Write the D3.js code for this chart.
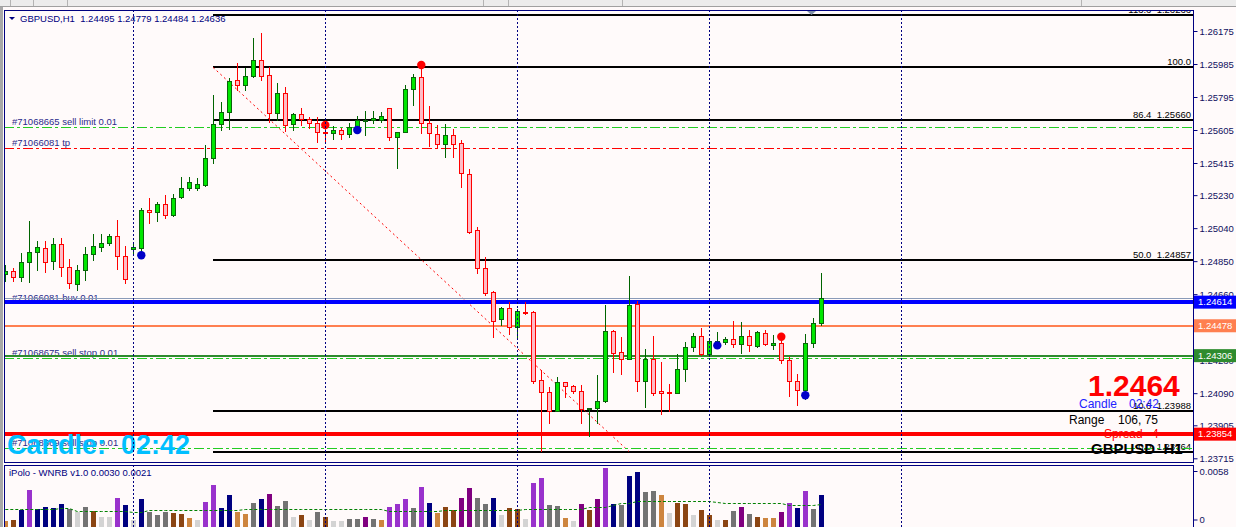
<!DOCTYPE html>
<html>
<head>
<meta charset="utf-8">
<script src="https://cdn.jsdelivr.net/npm/d3@7"></script>
<style>
html, body { margin: 0; padding: 0; background: #fffafa; overflow: hidden; }
svg { display: block; }
text { font-family: "Liberation Sans", Arial, sans-serif; white-space: pre; }
</style>
</head>
<body>
<div id="chart"></div>
<script>
// GBPUSD H1 candles, oldest first
const candleOpen = [1.24776,1.24795,1.24760,1.24843,1.24901,1.24924,1.24849,1.24949,1.24818,1.24717,
    1.24797,1.24889,1.24933,1.24953,1.24993,1.24878,1.24918,1.24927,1.25143,1.25131,
    1.25179,1.25114,1.25218,1.25271,1.25269,1.25288,1.25442,1.25638,1.25707,1.25893,
    1.25862,1.25916,1.26008,1.25920,1.25701,1.25816,1.25638,1.25695,1.25670,1.25644,
    1.25592,1.25586,1.25605,1.25580,1.25615,1.25660,1.25663,1.25663,1.25733,1.25563,
    1.25595,1.25839,1.25908,1.25647,1.25580,1.25523,1.25574,1.25528,1.25352,1.25029,
    1.24809,1.24671,1.24515,1.24578,1.24469,1.24559,1.24555,1.24164,1.24095,1.23989,
    1.24152,1.24129,1.24101,1.24000,1.24004,1.24046,1.24446,1.24325,1.24285,1.24603,
    1.24158,1.24285,1.24102,1.24097,1.24089,1.24227,1.24354,1.24417,1.24317,1.24367,
    1.24386,1.24400,1.24371,1.24419,1.24360,1.24434,1.24365,1.24377,1.24279,1.24158,
    1.24108,1.24377,1.24495];
const candleHigh = [1.24828,1.24810,1.24897,1.25081,1.24966,1.24966,1.24985,1.24985,1.24862,1.24828,
    1.24933,1.25006,1.25006,1.25005,1.25087,1.24937,1.24953,1.25154,1.25212,1.25189,
    1.25231,1.25237,1.25334,1.25334,1.25329,1.25519,1.25807,1.25768,1.25906,1.25989,
    1.25964,1.26136,1.26162,1.25969,1.25874,1.25854,1.25701,1.25730,1.25682,1.25678,
    1.25634,1.25628,1.25618,1.25644,1.25686,1.25714,1.25714,1.25710,1.25733,1.25595,
    1.25864,1.25927,1.25960,1.25743,1.25634,1.25640,1.25609,1.25547,1.25379,1.25045,
    1.24872,1.24678,1.24588,1.24613,1.24576,1.24613,1.24563,1.24223,1.24124,1.24181,
    1.24156,1.24137,1.24135,1.24003,1.24194,1.24599,1.24453,1.24411,1.24764,1.24619,
    1.24344,1.24419,1.24268,1.24143,1.24315,1.24383,1.24434,1.24465,1.24396,1.24440,
    1.24415,1.24504,1.24498,1.24452,1.24448,1.24453,1.24423,1.24438,1.24296,1.24200,
    1.24430,1.24521,1.24779];
const candleLow = [1.24736,1.24736,1.24736,1.24732,1.24799,1.24789,1.24805,1.24766,1.24697,1.24684,
    1.24741,1.24857,1.24908,1.24943,1.24806,1.24726,1.24891,1.24904,1.25071,1.25083,
    1.25097,1.25110,1.25212,1.25260,1.25260,1.25283,1.25413,1.25605,1.25611,1.25835,
    1.25835,1.25912,1.25893,1.25653,1.25663,1.25599,1.25605,1.25634,1.25615,1.25538,
    1.25528,1.25551,1.25551,1.25566,1.25595,1.25576,1.25644,1.25653,1.25547,1.25384,
    1.25595,1.25749,1.25589,1.25513,1.25500,1.25451,1.25448,1.25277,1.25010,1.24780,
    1.24655,1.24411,1.24482,1.24430,1.24415,1.24544,1.24150,1.23758,1.23920,1.23989,
    1.24066,1.24089,1.23920,1.23843,1.23920,1.24041,1.24213,1.24200,1.24285,1.24104,
    1.24012,1.24079,1.23968,1.23989,1.24089,1.24162,1.24334,1.24307,1.24306,1.24356,
    1.24371,1.24354,1.24319,1.24334,1.24357,1.24369,1.24346,1.24265,1.24073,1.24022,
    1.24054,1.24354,1.24484];
const candleClose = [1.24793,1.24760,1.24843,1.24901,1.24930,1.24847,1.24947,1.24818,1.24722,1.24799,
    1.24889,1.24935,1.24953,1.24993,1.24881,1.24745,1.24930,1.25143,1.25131,1.25177,
    1.25114,1.25212,1.25269,1.25306,1.25294,1.25442,1.25638,1.25707,1.25887,1.25862,
    1.25916,1.26008,1.25918,1.25701,1.25816,1.25632,1.25695,1.25667,1.25644,1.25595,
    1.25586,1.25605,1.25580,1.25624,1.25663,1.25665,1.25672,1.25686,1.25563,1.25595,
    1.25839,1.25908,1.25647,1.25586,1.25523,1.25574,1.25523,1.25356,1.25019,1.24809,
    1.24668,1.24507,1.24578,1.24469,1.24561,1.24553,1.24162,1.24095,1.23989,1.24152,
    1.24131,1.24101,1.24000,1.24003,1.24043,1.24446,1.24323,1.24285,1.24596,1.24162,
    1.24285,1.24092,1.24089,1.24089,1.24227,1.24354,1.24417,1.24314,1.24388,1.24390,
    1.24400,1.24373,1.24419,1.24365,1.24440,1.24371,1.24377,1.24279,1.24158,1.24108,
    1.24377,1.24492,1.24636];

// signal dots: candle index + price
const redDotIdx = [40, 52, 97];
const redDotPrice = [1.25634, 1.25979, 1.24415];
const blueDotIdx = [17, 44, 89, 100];
const blueDotPrice = [1.24884, 1.25605, 1.24365, 1.24078];

// day separators (candle index)
const separatorIdx = [16, 40, 64, 88, 112];

// price axis
const priceTicks = [1.26175, 1.25985, 1.25795, 1.25605, 1.25415, 1.25230, 1.25040,
    1.24850, 1.24660, 1.24470, 1.24280, 1.24090, 1.23905, 1.23715];

// fibonacci
const fibLabels = ['113.6  1.26266', '100.0', '86.4  1.25660', '50.0  1.24857', '10.6  1.23988', '0.0  1.23764'];
const fibPrices = [1.26266, 1.25966, 1.25660, 1.24857, 1.23988, 1.23754];
const fibStartIdx = 26;
const fibEndIdx = 78;

// pending / open orders
const orderLabels = ['#71068665 sell limit 0.01', '#71066081 tp', '#71066081 buy 0.01',
    '#71068675 sell stop 0.01', '#71068669 sell stop 0.01'];
const orderPrices = [1.25625, 1.25501, 1.24608, 1.24292, 1.23772];
const orderColors = ['#22cc22', '#ff0000', '#22cc22', '#22cc22', '#22cc22'];

// solid horizontal levels
const levelPrices = [1.24636, 1.24614, 1.24478, 1.24306, 1.23854];
const levelColors = ['#8a9ab8', '#0000ff', '#ff7f50', '#2e8b2e', '#ff0000'];
const levelWidths = [1, 4, 2, 2, 4];
const levelBoxed = [false, true, true, true, true];

// iPolo - WNRB histogram
const wnrbValues = [0.0010,0.0011,0.0020,0.0040,0.0021,0.0023,0.0022,0.0026,0.0021,0.0018,
    0.0023,0.0019,0.0014,0.0014,0.0032,0.0025,0.0011,0.0031,0.0018,0.0015,
    0.0018,0.0017,0.0016,0.0013,0.0011,0.0028,0.0044,0.0022,0.0035,0.0018,
    0.0016,0.0027,0.0031,0.0036,0.0024,0.0029,0.0014,0.0015,0.0011,0.0018,
    0.0014,0.0010,0.0010,0.0012,0.0012,0.0014,0.0012,0.0011,0.0023,0.0026,
    0.0031,0.0022,0.0043,0.0027,0.0017,0.0023,0.0020,0.0032,0.0042,0.0032,
    0.0026,0.0032,0.0015,0.0022,0.0021,0.0012,0.0046,0.0051,0.0025,0.0024,
    0.0013,0.0010,0.0026,0.0020,0.0031,0.0061,0.0026,0.0025,0.0053,0.0057,
    0.0038,0.0039,0.0035,0.0017,0.0027,0.0026,0.0015,0.0020,0.0015,0.0011,
    0.0011,0.0019,0.0023,0.0016,0.0014,0.0013,0.0013,0.0018,0.0027,0.0022,
    0.0039,0.0021,0.0035];
const wnrbColorKeys = ('PBNVNNNNGLGBLLVNLNGGGBBPLVVNNPPGNUGGLBLGB' +
    'LLGGUGPVVVGVNPBBUUGGNLBBLVVGGPLUBUVN' +
    'GNNGGPLBBLBBLBGUGBPPUVNVGN').split('');
const wnrbAverage = [0.00208,0.00208,0.00208,0.00208,0.00208,0.00208,0.00208,0.00227,0.00227,0.00196,
    0.00196,0.00196,0.00196,0.00196,0.00196,0.00196,0.00187,0.00187,0.00203,0.00203,
    0.00203,0.00203,0.00203,0.00203,0.00203,0.00203,0.00203,0.00203,0.00203,0.00203,
    0.00213,0.00213,0.00213,0.00213,0.00213,0.00213,0.00213,0.00213,0.00213,0.00213,
    0.00213,0.00213,0.00213,0.00213,0.00213,0.00213,0.00213,0.00213,0.00198,0.00198,
    0.00198,0.00198,0.00198,0.00198,0.00198,0.00203,0.00203,0.00203,0.00203,0.00203,
    0.00203,0.00203,0.00203,0.00203,0.00203,0.00213,0.00213,0.00213,0.00213,0.00213,
    0.00213,0.00213,0.00213,0.00229,0.00229,0.00229,0.00251,0.00268,0.00268,0.00293,
    0.00293,0.00293,0.00293,0.00293,0.00293,0.00293,0.00293,0.00293,0.00293,0.00277,
    0.00268,0.00268,0.00268,0.00268,0.00268,0.00268,0.00268,0.00268,0.00251,0.00251,
    0.00251,0.00251,0.00261];
const wnrbTicks = [0, 0.0058];

const colorMap = { P: '#cd853f', B: '#8b4513', N: '#000080', V: '#9932cc', G: '#737373', L: '#d3d3d3', U: '#800080' };

const width = 1236, height = 527;
const main = { left: 4, top: 10, right: 1193, bottom: 462 };
const ind = { top: 465, bottom: 527 };

const svg = d3.select('#chart').append('svg')
    .attr('width', width)
    .attr('height', height);

const xScale = d3.scaleLinear().domain([0, candleOpen.length - 1]).range([5.3, 821.3]);
const yScale = d3.scaleLinear().domain([1.26175, 1.23715]).range([31, 458.3]);
const indScale = d3.scaleLinear().domain([0, 0.0058]).range([531, 471]);

const cx = i => Math.round(xScale(i));
const py = p => Math.round(yScale(p));

// window chrome
svg.append('rect').attr('width', width).attr('height', height).attr('fill', '#fffafa');
svg.append('rect').attr('width', width).attr('height', 7).attr('fill', '#ececec');
svg.append('line').attr('x1', 0).attr('x2', width).attr('y1', 6.5).attr('y2', 6.5).attr('stroke', '#a0a0a0');
[10, 33, 67, 483, 508, 622, 1081].forEach(x => {
    svg.append('line').attr('x1', x + 0.5).attr('x2', x + 0.5).attr('y1', 0).attr('y2', 6)
        .attr('stroke', '#b4b4b4');
});
svg.append('rect').attr('x', 0).attr('y', 7).attr('width', 3).attr('height', height).attr('fill', '#a8a8a8');

const defs = svg.append('defs');
defs.append('clipPath').attr('id', 'clipMain').append('rect')
    .attr('x', main.left + 1).attr('y', main.top + 1)
    .attr('width', main.right - main.left - 1).attr('height', main.bottom - main.top - 1);
defs.append('clipPath').attr('id', 'clipInd').append('rect')
    .attr('x', main.left + 1).attr('y', ind.top + 1)
    .attr('width', main.right - main.left - 1).attr('height', ind.bottom - ind.top);
defs.append('clipPath').attr('id', 'clipAxis').append('rect')
    .attr('x', main.right).attr('y', main.top + 1)
    .attr('width', width - main.right).attr('height', main.bottom - main.top - 1);

const plot = svg.append('g').attr('clip-path', 'url(#clipMain)');
const indPlot = svg.append('g').attr('clip-path', 'url(#clipInd)');

// day separators
separatorIdx.forEach(i => {
    [[main.top, main.bottom], [ind.top, ind.bottom]].forEach(r => {
        svg.append('line')
            .attr('x1', cx(i) + 0.5).attr('x2', cx(i) + 0.5)
            .attr('y1', r[0]).attr('y2', r[1])
            .attr('stroke', '#000080').attr('stroke-dasharray', '2,2');
    });
});

// order labels (lines drawn over them)
orderLabels.forEach((t, i) => {
    plot.append('text')
        .attr('x', 12).attr('y', py(orderPrices[i]) - 2.5)
        .attr('font-size', '9.5px').attr('fill', '#2b2b8a')
        .text(t);
});

// fib levels
fibPrices.forEach((p, i) => {
    plot.append('line')
        .attr('x1', cx(fibStartIdx)).attr('x2', main.right)
        .attr('y1', py(p)).attr('y2', py(p))
        .attr('stroke', '#000').attr('stroke-width', 2);
    plot.append('text')
        .attr('x', main.right - 2).attr('y', py(p) - 2)
        .attr('text-anchor', 'end').attr('font-size', '9.5px').attr('fill', '#000')
        .text(fibLabels[i]);
});
plot.append('line')
    .attr('x1', cx(fibStartIdx)).attr('y1', yScale(fibPrices[1]))
    .attr('x2', cx(fibEndIdx)).attr('y2', yScale(fibPrices[5]))
    .attr('stroke', '#ff0000').attr('stroke-dasharray', '2,3');

// order lines (dash-dot)
orderPrices.forEach((p, i) => {
    plot.append('line')
        .attr('x1', main.left).attr('x2', main.right)
        .attr('y1', py(p) + 0.5).attr('y2', py(p) + 0.5)
        .attr('stroke', orderColors[i]).attr('stroke-dasharray', '10,3,3,3');
});

// solid levels
levelPrices.forEach((p, i) => {
    let off = levelWidths[i] % 2 ? 0.5 : 0;
    plot.append('line')
        .attr('x1', main.left).attr('x2', main.right)
        .attr('y1', py(p) + off).attr('y2', py(p) + off)
        .attr('stroke', levelColors[i]).attr('stroke-width', levelWidths[i]);
});

// candles
const candles = plot.append('g').selectAll('g')
    .data(candleOpen.map((o, i) => ({ i: i, o: o, h: candleHigh[i], l: candleLow[i], c: candleClose[i] })))
    .enter().append('g');

candles.append('line')
    .attr('x1', d => cx(d.i) + 0.5).attr('x2', d => cx(d.i) + 0.5)
    .attr('y1', d => py(d.h)).attr('y2', d => py(d.l) + 1)
    .attr('stroke', d => d.c >= d.o ? '#006400' : '#ff0000');

candles.append('rect')
    .attr('x', d => cx(d.i) - 1.5)
    .attr('y', d => py(Math.max(d.o, d.c)) + 0.5)
    .attr('width', 4)
    .attr('height', d => Math.max(py(Math.min(d.o, d.c)) - py(Math.max(d.o, d.c)), 1))
    .attr('fill', d => d.c >= d.o ? '#00e600' : '#ffbcc6')
    .attr('stroke', d => d.c >= d.o ? '#0a640a' : '#ff0000');

// signal dots
redDotIdx.forEach((k, i) => {
    plot.append('circle').attr('cx', xScale(k)).attr('cy', yScale(redDotPrice[i]))
        .attr('r', 4.2).attr('fill', '#ff0000');
});
blueDotIdx.forEach((k, i) => {
    plot.append('circle').attr('cx', xScale(k)).attr('cy', yScale(blueDotPrice[i]))
        .attr('r', 4.2).attr('fill', '#0000c8');
});

// header
plot.append('path').attr('d', 'M9,17 L15,17 L12,20 Z').attr('fill', '#000080');
plot.append('text')
    .attr('x', 20).attr('y', 21.5)
    .attr('font-size', '9.5px').attr('fill', '#000080')
    .text('GBPUSD,H1  ' + [candleOpen, candleHigh, candleLow, candleClose]
        .map(a => a[a.length - 1].toFixed(5)).join(' '));

// shift marker
svg.append('path').attr('d', 'M807,11 L816,11 L811.5,15 Z').attr('fill', '#8090a8');

// info block, right side
plot.append('text').attr('x', 1088).attr('y', 396)
    .attr('font-family', 'Arial, "Liberation Sans"').attr('font-weight', 'bold')
    .attr('font-size', '30px').attr('fill', '#ff0000').text('1.2464');
plot.append('text').attr('x', 1079).attr('y', 408).attr('font-size', '12px').attr('fill', '#2222ff').text('Candle');
plot.append('text').attr('x', 1129).attr('y', 408).attr('font-size', '12px').attr('fill', '#2222ff').text('02:42');
plot.append('text').attr('x', 1069).attr('y', 424).attr('font-size', '12px').attr('fill', '#000').text('Range');
plot.append('text').attr('x', 1118).attr('y', 424).attr('font-size', '12px').attr('fill', '#000').text('106, 75');
plot.append('text').attr('x', 1104).attr('y', 438).attr('font-size', '12px').attr('fill', '#ff0000').text('Spread');
plot.append('text').attr('x', 1152).attr('y', 438).attr('font-size', '12px').attr('fill', '#ff0000').text('4');
plot.append('text').attr('x', 1091).attr('y', 454)
    .attr('font-weight', 'bold').attr('font-size', '15px').attr('fill', '#000').text('GBPUSD  H1');

// big candle timer
plot.append('text').attr('x', 7).attr('y', 453.5)
    .attr('font-family', 'Arial, "Liberation Sans"').attr('font-weight', 'bold')
    .attr('font-size', '27px').attr('fill', '#00bfff').text('Candle:  02:42');

// price axis
const axisG = svg.append('g').attr('clip-path', 'url(#clipAxis)')
    .append('g').attr('transform', 'translate(' + (main.right + 0.5) + ',0)');
axisG.call(d3.axisRight(yScale).tickValues(priceTicks).tickSize(4).tickPadding(2)
    .tickFormat(d3.format('.5f')));
axisG.select('.domain').remove();
axisG.selectAll('line').attr('stroke', '#000080');
axisG.selectAll('text').attr('font-family', '"Liberation Sans", Arial, sans-serif')
    .attr('font-size', '9.5px').attr('fill', '#101060');

// price boxes
levelPrices.forEach((p, i) => {
    if (!levelBoxed[i]) return;
    svg.append('rect')
        .attr('x', main.right + 1).attr('y', yScale(p) - 6.5)
        .attr('width', width - main.right - 1).attr('height', 13)
        .attr('fill', levelColors[i]);
    svg.append('text')
        .attr('x', main.right + 5).attr('y', yScale(p)).attr('dy', '0.35em')
        .attr('font-size', '9.5px').attr('fill', '#fff')
        .text(p.toFixed(5));
});

// indicator histogram
indPlot.selectAll('rect.bar')
    .data(wnrbValues)
    .enter().append('rect')
    .attr('class', 'bar')
    .attr('x', (d, i) => cx(i) - 2)
    .attr('y', d => Math.round(indScale(d)))
    .attr('width', 5)
    .attr('height', d => indScale(0) - Math.round(indScale(d)))
    .attr('fill', (d, i) => colorMap[wnrbColorKeys[i]]);

indPlot.append('path')
    .datum(wnrbAverage)
    .attr('d', d3.line().x((d, i) => xScale(i)).y(d => Math.round(indScale(d)) + 0.5))
    .attr('fill', 'none').attr('stroke', '#008000').attr('stroke-dasharray', '3,2');

indPlot.append('text').attr('x', 9).attr('y', 476)
    .attr('font-size', '9.5px').attr('fill', '#000080').text('iPolo - WNRB v1.0 0.0030 0.0021');

const indAxis = svg.append('g').attr('transform', 'translate(' + (main.right + 0.5) + ',0)');
indAxis.call(d3.axisRight(indScale).tickValues(wnrbTicks).tickSize(4).tickPadding(2)
    .tickFormat(d => d === 0 ? '0' : d3.format('.4f')(d)));
indAxis.select('.domain').remove();
indAxis.selectAll('.tick').filter(d => d === 0).attr('transform', 'translate(0,520)');
indAxis.selectAll('line').attr('stroke', '#000080');
indAxis.selectAll('text').attr('font-family', '"Liberation Sans", Arial, sans-serif')
    .attr('font-size', '9.5px').attr('fill', '#101060');

// panel borders
svg.append('rect')
    .attr('x', main.left + 0.5).attr('y', main.top + 0.5)
    .attr('width', main.right - main.left).attr('height', main.bottom - main.top)
    .attr('fill', 'none').attr('stroke', '#000080');
svg.append('rect')
    .attr('x', main.left + 0.5).attr('y', ind.top + 0.5)
    .attr('width', main.right - main.left).attr('height', 80)
    .attr('fill', 'none').attr('stroke', '#000080');
</script>
</body>
</html>
